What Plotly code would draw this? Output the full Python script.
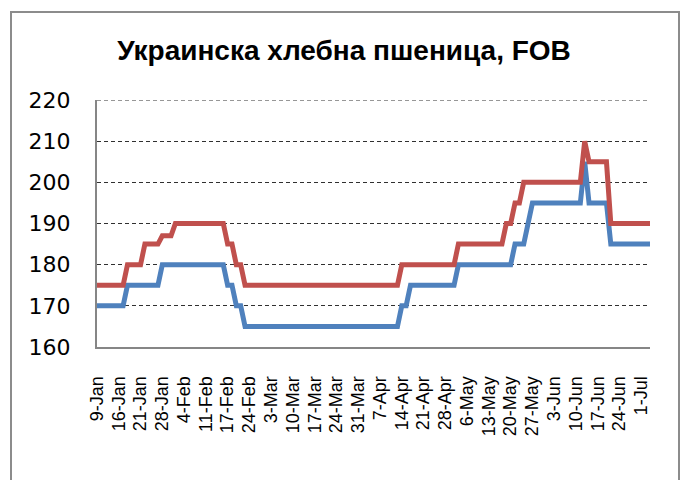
import plotly.graph_objects as go

# --- data ---
date_labels = ["9-Jan", "16-Jan", "21-Jan", "28-Jan", "4-Feb", "11-Feb", "17-Feb",
               "24-Feb", "3-Mar", "10-Mar", "17-Mar", "24-Mar", "31-Mar", "7-Apr",
               "14-Apr", "21-Apr", "28-Apr", "6-May", "13-May", "20-May", "27-May",
               "3-Jun", "10-Jun", "17-Jun", "24-Jun", "1-Jul"]
label_every = 5  # one date label for every 5 observations

red_values = ([175] * 7 + [180] * 4 + [185] * 4 + [187] * 3 + [190] * 12 +
              [185] * 2 + [180] * 2 + [175] * 36 + [180] * 13 + [185] * 11 +
              [190] * 2 + [195] * 2 + [200] * 14 + [210] * 1 + [205] * 5 +
              [190] * 10)
blue_values = ([170] * 7 + [175] * 8 + [180] * 15 + [175] * 2 + [170] * 2 +
               [165] * 36 + [170] * 2 + [175] * 11 + [180] * 13 + [185] * 3 +
               [190] * 1 + [195] * 12 + [205] * 1 + [195] * 5 + [185] * 10)

y_ticks = [160, 170, 180, 190, 200, 210, 220]

x = list(range(len(red_values)))
tick_positions = [i * label_every for i in range(len(date_labels))]

fig = go.Figure()
fig.add_trace(go.Scatter(x=x, y=blue_values, mode="lines",
                         line=dict(color="#4F81BD", width=5), showlegend=False,
                         hoverinfo="skip"))
fig.add_trace(go.Scatter(x=x, y=red_values, mode="lines",
                         line=dict(color="#C0504D", width=5), showlegend=False,
                         hoverinfo="skip"))

W, H = 684, 480
L, R, T, B = 97, 34, 100, 133
pw, ph = W - L - R, H - T - B
grid_color = "#303030"
grid_dash = "4px,3px"


def px_x(p):
    return (p - L) / pw


def px_y(p):
    return (H - B - p) / ph


fig.update_layout(
    width=W, height=H,
    margin=dict(l=L, r=R, t=T, b=B, pad=0),
    paper_bgcolor="white", plot_bgcolor="white",
    title=dict(text="<b>Украинска хлебна пшеница, FOB</b>",
               x=344 / W, xanchor="center", y=1 - 50 / H, yanchor="middle",
               font=dict(family="Liberation Sans", size=28, color="black")),
    xaxis=dict(range=[0, len(x) - 1], tickmode="array",
               tickvals=tick_positions, ticktext=date_labels,
               tickangle=-90, showgrid=False, zeroline=False,
               showline=True, linecolor="#868686", linewidth=2,
               ticks="", ticklabelstandoff=20,
               tickfont=dict(family="Liberation Sans", size=18, color="black")),
    yaxis=dict(range=[y_ticks[0], y_ticks[-1]], tickmode="array", tickvals=y_ticks,
               showgrid=True, gridcolor=grid_color, gridwidth=1,
               griddash=grid_dash, zeroline=False,
               showline=True, linecolor="#868686", linewidth=2,
               ticks="", ticklabelstandoff=20,
               tickfont=dict(family="DejaVu Sans", size=22, color="black")),
    shapes=[dict(type="rect", xref="paper", yref="paper",
                 x0=px_x(11), x1=px_x(679), y0=px_y(490), y1=px_y(12),
                 line=dict(color="#8C8C8C", width=2), fillcolor="rgba(0,0,0,0)",
                 layer="below"),
            # top gridline (plotly omits the grid line at the range edge)
            dict(type="line", xref="paper", yref="y", x0=0, x1=1,
                 y0=y_ticks[-1], y1=y_ticks[-1],
                 line=dict(color=grid_color, width=1, dash=grid_dash),
                 layer="below")],
)

fig.write_html("out.html",
               config={"displayModeBar": False},
               post_script="document.body.style.margin='0';"
                           "document.body.style.overflow='hidden';")
